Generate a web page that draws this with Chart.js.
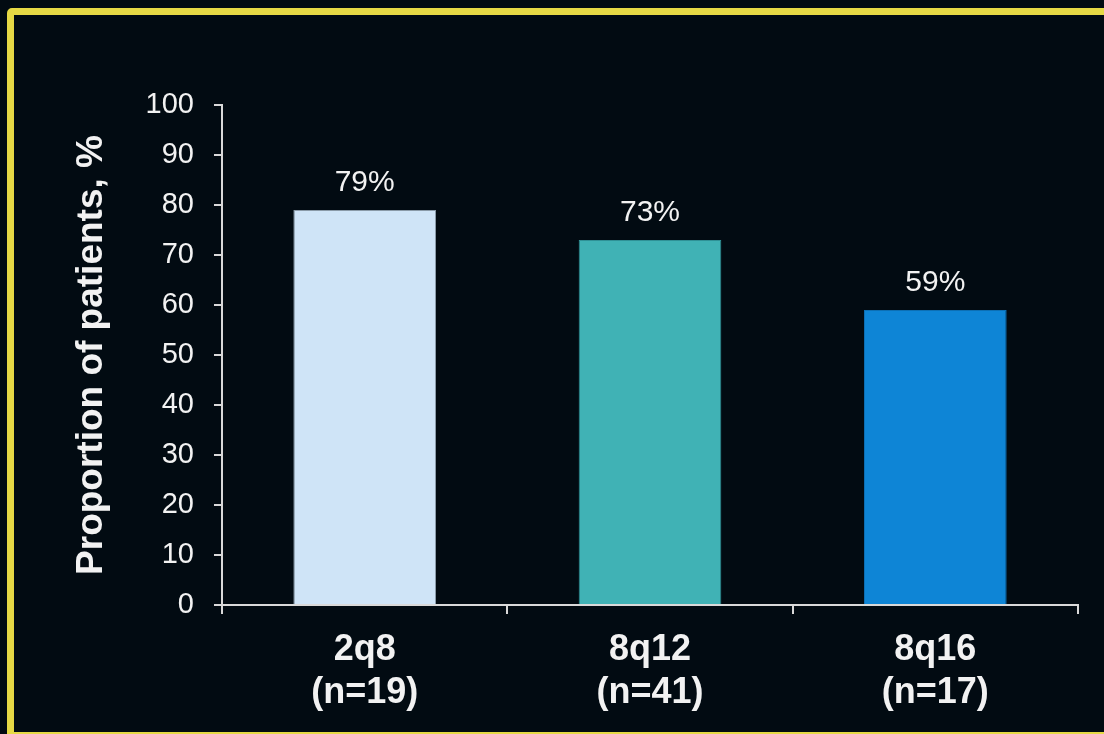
<!DOCTYPE html>
<html>
<head>
<meta charset="utf-8">
<script src="https://cdn.jsdelivr.net/npm/chart.js@4"></script>
<style>
    html, body { margin: 0; padding: 0; background: #020b12; overflow: hidden; }
    #wrap { position: relative; width: 1104px; height: 734px; }
    #frame {
        position: absolute; left: 7px; top: 8px; width: 1200px; height: 731px;
        box-sizing: border-box; border: 7px solid #e6d945; border-radius: 5px;
        pointer-events: none;
    }
</style>
</head>
<body>
<div id="wrap">
    <canvas id="barChart" width="1104" height="734"></canvas>
    <div id="frame"></div>
</div>
<script>
    'use strict';

    const groups = [['2q8', '(n=19)'], ['8q12', '(n=41)'], ['8q16', '(n=17)']];
    const proportions = [79, 73, 59];
    const valueLabels = ['79%', '73%', '59%'];
    const yTicks = [0, 10, 20, 30, 40, 50, 60, 70, 80, 90, 100];

    const FONT = "'Liberation Sans', Arial, sans-serif";
    const AXIS = '#d9d9d9';
    const TEXT = '#f2f2f2';

    const valueLabelPlugin = {
        id: 'valueLabels',
        afterDatasetsDraw(chart) {
            const ctx = chart.ctx;
            const meta = chart.getDatasetMeta(0);
            ctx.save();
            ctx.font = '30px ' + FONT;
            ctx.fillStyle = TEXT;
            ctx.textAlign = 'center';
            ctx.textBaseline = 'alphabetic';
            meta.data.forEach((bar, i) => {
                ctx.fillText(valueLabels[i], bar.x, bar.y - 19);
            });
            ctx.restore();
        }
    };

    Chart.defaults.font.family = FONT;
    Chart.defaults.color = TEXT;

    new Chart(document.getElementById('barChart'), {
        type: 'bar',
        data: {
            labels: groups,
            datasets: [{
                data: proportions,
                backgroundColor: ['#cfe4f7', '#40b2b5', '#0e85d6'],
                borderColor: ['#8a9aa8', '#2f9196', '#0c6fb4'],
                borderWidth: 1,
                categoryPercentage: 1,
                barPercentage: 0.5
            }]
        },
        options: {
            responsive: false,
            animation: false,
            layout: { padding: { left: 0, top: 105, right: 26, bottom: 0 } },
            plugins: {
                legend: { display: false },
                tooltip: { enabled: false }
            },
            scales: {
                x: {
                    grid: {
                        display: true,
                        drawOnChartArea: false,
                        offset: true,
                        tickLength: 9,
                        color: AXIS,
                        lineWidth: 2
                    },
                    border: { display: true, color: AXIS, width: 2 },
                    ticks: {
                        color: TEXT,
                        padding: 14,
                        maxRotation: 0,
                        font: { size: 36, weight: 'bold', lineHeight: 1.2 }
                    },
                    afterFit(scale) { scale.height = 129; }
                },
                y: {
                    min: 0,
                    max: 100,
                    afterBuildTicks(scale) {
                        scale.ticks = yTicks.map(v => ({ value: v }));
                    },
                    grid: {
                        display: true,
                        drawOnChartArea: false,
                        tickLength: 8,
                        color: AXIS,
                        lineWidth: 2
                    },
                    border: { display: true, color: AXIS, width: 2 },
                    ticks: {
                        color: TEXT,
                        padding: 20,
                        font: { size: 29 }
                    },
                    title: {
                        display: true,
                        text: 'Proportion of patients, %',
                        color: TEXT,
                        font: { size: 37, weight: 'bold', lineHeight: 1.2 },
                        padding: { top: 70, bottom: 0 }
                    },
                    afterFit(scale) { scale.width = 222; }
                }
            }
        },
        plugins: [valueLabelPlugin]
    });
</script>
</body>
</html>
